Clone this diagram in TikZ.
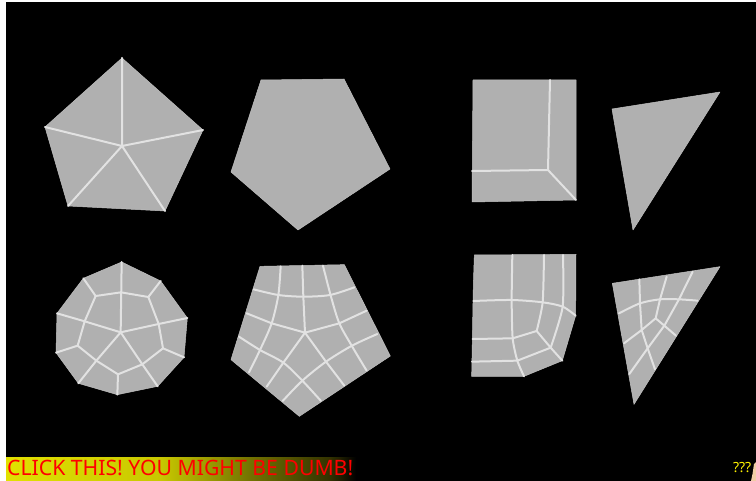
\documentclass[tikz,border=0pt]{standalone}
\usepackage{fontspec}
\setmainfont{Noto Sans}
\definecolor{meshfill}{RGB}{176,176,176}
\definecolor{meshline}{RGB}{226,226,226}
\definecolor{ya}{RGB}{225,225,0}
\definecolor{yb}{RGB}{200,200,0}
\definecolor{yc}{RGB}{115,115,0}
\definecolor{yd}{RGB}{50,50,0}
\definecolor{peach}{RGB}{240,205,165}
\tikzset{
  face/.style={fill=meshfill,draw=meshfill!80!white,line width=.5pt,line join=round},
  edge/.style={draw=meshline,line width=2pt,line cap=round,line join=round},
  zoomed/.style={shift={#1},scale=1/3},
}
\begin{document}
\begin{tikzpicture}[x=1pt,y=-1pt]
\useasboundingbox (0,0) rectangle (756,481);
\fill[white] (0,0) rectangle (756,481);
\fill[black] (6,2) rectangle (756,481);
% top left pentagon with spokes
\draw[face] (45,127) -- (122,58) -- (203,130) -- (165,211) -- (68,206) -- cycle;
\draw[edge] (122,146) -- (122,58) (122,146) -- (45,127) (122,146) -- (203,130) (122,146) -- (165,211) (122,146) -- (68,206);
% top pentagon
\draw[face] (261,80) -- (344,79) -- (390,169) -- (298,230) -- (231,172) -- cycle;
% top quad
\draw[face] (473,80) -- (576,80) -- (576,200) -- (472,202) -- cycle;
\draw[edge] (550,80) -- (548,170) -- (576,200) (472,171) -- (548,170);
% top triangle
\draw[face] (612,109) -- (720,92) -- (633,230) -- cycle;
% bottom left decagon
\begin{scope}[zoomed={(30,250)}]
\draw[face] (275,36) -- (392,93) -- (472,204) -- (462,322) -- (383,409) -- (262,434) -- (145,400) -- (78,308) -- (81,190) -- (160,85) -- cycle;
\draw[edge] (197,138) -- (273,127) -- (355,141) -- (386,222) -- (399,295) -- (337,343) -- (264,373) -- (199,332) -- (143,287) -- (164,214) -- cycle;
\draw[edge] (275,36) -- (272,247) (392,93) -- (355,141) (160,85) -- (197,138)
  (472,204) -- (386,222) -- (272,247) (81,190) -- (164,214) -- (272,247)
  (462,322) -- (399,295) (383,409) -- (337,343) -- (272,247)
  (262,434) -- (264,373) (145,400) -- (199,332) -- (272,247) (78,308) -- (143,287);
\end{scope}
% bottom pentagon
\begin{scope}[zoomed={(220,255)}]
\draw[face] (120,34) -- (373,29) -- (511,303) -- (238,484) -- (33,314) -- cycle;
\draw[edge] plot[smooth,tension=.5] coordinates {(182,34) (175,120) (155,205) (120,285) (87,352)};
\draw[edge] (247,32) -- (250,125) -- (255,233) -- (190,323) -- (140,395);
\draw[edge] plot[smooth,tension=.5] coordinates {(309,32) (333,125) (358,205) (395,272) (440,347)};
\draw[edge] plot[smooth,tension=.5] coordinates {(101,103) (175,120) (250,125) (330,120) (403,97)};
\draw[edge] (80,175) -- (155,205) -- (255,233) -- (358,205) -- (440,167);
\draw[edge] plot[smooth,tension=.5] coordinates {(57,245) (120,285) (190,323) (247,377) (303,438)};
\draw[edge] plot[smooth,tension=.5] coordinates {(472,237) (396,272) (318,320) (247,377) (188,438)};
\draw[edge] (255,233) -- (318,320) -- (373,392);
\end{scope}
% bottom quad
\begin{scope}[zoomed={(460,245)}]
\draw[face] (43,30) -- (348,28) -- (347,212) -- (307,347) -- (192,394) -- (35,394) -- (40,120) -- cycle;
\draw[edge] plot[smooth,tension=.4] coordinates {(157,30) (155,165) (158,280) (172,347) (192,394)};
\draw[edge] plot[smooth,tension=.4] coordinates {(252,30) (248,172) (230,258)};
\draw[edge] plot[smooth,tension=.4] coordinates {(309,30) (308,185) (272,308)};
\draw[edge] plot[smooth,tension=.5] coordinates {(40,168) (155,165) (248,172) (308,185) (347,212)};
\draw[edge] (38,282) -- (158,280) -- (230,258) -- (272,308) -- (307,347);
\draw[edge] (36,350) -- (172,347) -- (272,308);
\end{scope}
% bottom triangle
\begin{scope}[zoomed={(605,260)}]
\draw[face] (22,70) -- (345,20) -- (87,433) -- cycle;
\draw[edge] (103,58) -- (105,130) -- (110,210) -- (128,265) -- (150,328);
\draw[edge] (185,50) -- (165,118) -- (152,175) -- (110,210) -- (57,250);
\draw[edge] (263,35) -- (222,118) -- (178,197) -- (128,265) -- (73,342);
\draw[edge] plot[smooth,tension=.5] coordinates {(42,160) (105,130) (165,118) (222,118) (278,122)};
\draw[edge] (152,175) -- (178,197) -- (213,227);
\end{scope}
% banner
\shade[left color=ya,right color=yb] (6,457) rectangle (160.5,481);
\shade[left color=yb,right color=yc] (160,457) rectangle (250.5,481);
\shade[left color=yc,right color=yd] (250,457) rectangle (330.5,481);
\shade[left color=yd,right color=black] (330,457) rectangle (356,481);
\node[anchor=base west,inner sep=0pt,text=red,font=\fontsize{21.2}{21}\selectfont] (banner) at (7,475.5) {CLICK THIS! YOU MIGHT BE DUMB!};
\node[anchor=base east,inner sep=0pt,text=yellow,font=\bfseries\fontsize{14}{14}\selectfont] (qq) at (751.5,472) {???};
\fill[peach] (756,462) -- (754,464) -- (752.5,474) -- (751,481) -- (756,481) -- cycle;
\end{tikzpicture}
\end{document}
